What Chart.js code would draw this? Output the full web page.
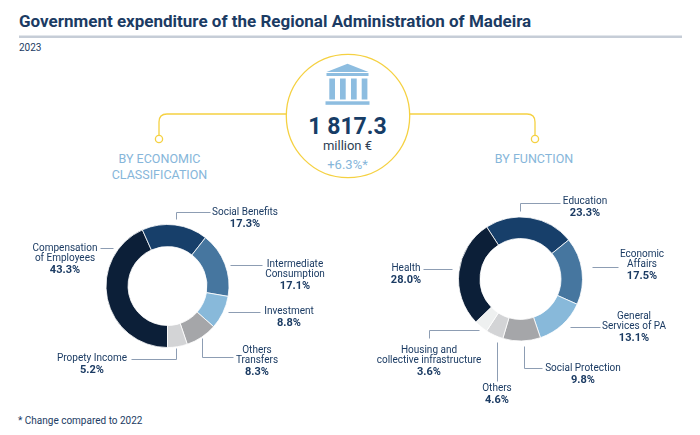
<!DOCTYPE html>
<html>
<head>
<meta charset="utf-8">
<script src="https://cdn.jsdelivr.net/npm/chart.js@4/dist/chart.umd.min.js"></script>
<style>
html,body{margin:0;padding:0;background:#fff;}
body{width:700px;height:435px;position:relative;overflow:hidden;font-family:Roboto,"Noto Sans",sans-serif;}
svg,canvas{position:absolute;left:0;top:0;}
</style>
</head>
<body>
<svg id="deco" width="700" height="435" xmlns="http://www.w3.org/2000/svg" font-family="Roboto, 'Noto Sans', sans-serif">
  <text x="19" y="27" font-size="17" font-weight="700" fill="#1b3b63">Government expenditure of the Regional Administration of Madeira</text>
  <rect x="19" y="35.5" width="663" height="2.5" fill="#c6cdd7"/>
  <text x="19" y="51" font-size="10" fill="#1b3b63">2023</text>
  <!-- connectors -->
  <path d="M286 114 H167 Q159 114 159 122 V135.5" fill="none" stroke="#f5d142" stroke-width="1.3"/>
  <circle cx="159" cy="139" r="3.6" fill="#fff" stroke="#f5d142" stroke-width="1.3"/>
  <path d="M410 114 H527 Q535 114 535 122 V135.5" fill="none" stroke="#f5d142" stroke-width="1.3"/>
  <circle cx="535" cy="139" r="3.6" fill="#fff" stroke="#f5d142" stroke-width="1.3"/>
  <circle cx="348" cy="116" r="61.7" fill="#fff" stroke="#f5d142" stroke-width="1.3"/>
  <!-- icon -->
  <g fill="#8dbde0">
    <polygon points="326.5,72 347.5,63.7 368.5,72"/>
    <rect x="326.5" y="73" width="42" height="3"/>
    <rect x="329.3" y="78.5" width="5.7" height="21"/>
    <rect x="340" y="78.5" width="5.7" height="21"/>
    <rect x="351" y="78.5" width="5.7" height="21"/>
    <rect x="361.7" y="78.5" width="5.7" height="21"/>
    <rect x="325.5" y="101.3" width="44" height="3.5"/>
  </g>
  <text id="total" x="347.5" y="134" font-size="23" font-weight="700" fill="#173d66" text-anchor="middle"></text>
  <text id="unit" x="347.5" y="150" font-size="13" fill="#2e3f55" text-anchor="middle"></text>
  <text id="change" x="347.5" y="169" font-size="13" fill="#86b6da" text-anchor="middle"></text>
  <text x="159.5" y="162.5" font-size="12.5" fill="#86b6da" text-anchor="middle">BY ECONOMIC</text>
  <text x="159.5" y="179" font-size="12.5" fill="#86b6da" text-anchor="middle">CLASSIFICATION</text>
  <text x="534" y="162.5" font-size="12.5" fill="#86b6da" text-anchor="middle">BY FUNCTION</text>
  <text x="18" y="423.5" font-size="10" fill="#1b3b63">* Change compared to 2022</text>
</svg>
<canvas id="econ" width="700" height="435"></canvas>
<canvas id="func" width="700" height="435"></canvas>
<script>
// ---- data ----
const totalExpenditure = 1817.3;   // million €
const changeVs2022 = 6.3;          // %

const econCategories = [
  ['Compensation', 'of Employees'],
  ['Social Benefits'],
  ['Intermediate', 'Consumption'],
  ['Investment'],
  ['Others', 'Transfers'],
  ['Propety Income']
];
const econValues = [43.3, 17.3, 17.1, 8.8, 8.3, 5.2];

const funcCategories = [
  ['Education'],
  ['Economic', 'Affairs'],
  ['General', 'Services of PA'],
  ['Social Protection'],
  ['Others'],
  ['Housing and', 'collective infrastructure'],
  ['Health']
];
const funcValues = [23.3, 17.5, 13.1, 9.8, 4.6, 3.6, 28.0];

// ---- styles / layout (not data) ----
const econColors = ['#0c1f38', '#173f6a', '#46769f', '#88b9da', '#a5a6a9', '#d3d4d6'];
const funcColors = ['#173f6a', '#46769f', '#88b9da', '#a5a6a9', '#d3d4d6', '#eef0f0', '#0c1f38'];

// label anchors relative to donut centre: [textX, firstLineY], leader polyline
const econCallouts = [
  {t: [-102.5, -38], line: [[-67.5, -38], [-54.5, -38]]},
  {t: [77.5, -74], line: [[8.5, -67], [8.5, -74], [42.5, -74]]},
  {t: [127.5, -22], line: [[62.5, -21], [94.5, -21]]},
  {t: [121.5, 25], line: [[60.5, 26], [92.5, 26]]},
  {t: [89.5, 64], line: [[34.5, 52], [34.5, 71], [65.5, 71]]},
  {t: [-75.5, 72], line: [[-36.5, 73], [8.5, 73], [8.5, 62]]}
];
const funcCallouts = [
  {t: [64.5, -78], line: [[-0.5, -68], [-0.5, -76], [39.5, -76]]},
  {t: [121.5, -25], line: [[71.5, -12], [97.5, -12]]},
  {t: [113.5, 37], line: [[49.5, 48], [79.5, 48]]},
  {t: [62.5, 89], line: [[3.5, 67], [3.5, 89], [21.5, 89]]},
  {t: [-23.5, 109], line: [[-23.5, 63], [-23.5, 102]]},
  {t: [-91.5, 71], line: [[-91.5, 59], [-91.5, 51], [-41.5, 51]]},
  {t: [-114.5, -11], line: [[-97.5, -10], [-68.5, -10]]}
];

// centre text
function fmtThousands(v) {
  const [i, d] = v.toFixed(1).split('.');
  return i.replace(/\B(?=(\d{3})+(?!\d))/g, ' ') + '.' + d;
}
document.getElementById('total').textContent = fmtThousands(totalExpenditure);
document.getElementById('unit').textContent = 'million €';
document.getElementById('change').textContent = '+' + changeVs2022.toFixed(1) + '%*';

const calloutPlugin = {
  id: 'callouts',
  afterDatasetsDraw(chart, args, opts) {
    const meta = chart.getDatasetMeta(0);
    if (!meta.data.length) return;
    const cx = meta.data[0].x, cy = meta.data[0].y;
    const ctx = chart.ctx;
    const values = chart.data.datasets[0].data;
    ctx.save();
    opts.items.forEach((c, i) => {
      ctx.strokeStyle = '#8d9db3';
      ctx.lineWidth = 1;
      ctx.beginPath();
      c.line.forEach((p, j) => {
        const x = Math.round(cx + p[0]) + 0.5, y = Math.round(cy + p[1]) + 0.5;
        if (j === 0) ctx.moveTo(x, y); else ctx.lineTo(x, y);
      });
      ctx.stroke();
      const lines = chart.data.labels[i];
      const tx = cx + c.t[0];
      let ty = cy + c.t[1];
      ctx.textAlign = 'center';
      ctx.textBaseline = 'middle';
      ctx.fillStyle = '#1b3b63';
      ctx.font = '10px Roboto, "Noto Sans", sans-serif';
      lines.forEach((s, k) => {
        ctx.fillText(s, tx, ty + k * 10);
      });
      ctx.font = 'bold 11px Roboto, "Noto Sans", sans-serif';
      ctx.fillText(values[i].toFixed(1) + '%', tx, ty + (lines.length - 1) * 10 + 12.5);
    });
    ctx.restore();
  }
};

function makeDonut(id, labels, values, colors, rotation, padding, radius, cutout, callouts) {
  return new Chart(document.getElementById(id), {
    type: 'doughnut',
    data: {
      labels: labels,
      datasets: [{
        data: values,
        backgroundColor: colors,
        borderColor: '#ffffff',
        borderWidth: 0.8,
        hoverOffset: 0
      }]
    },
    options: {
      responsive: false,
      animation: false,
      rotation: rotation,
      radius: radius,
      cutout: cutout,
      layout: {padding: padding},
      plugins: {
        legend: {display: false},
        tooltip: {enabled: false},
        callouts: {items: callouts}
      },
      events: []
    },
    plugins: [calloutPlugin]
  });
}

// left donut centred at (167.5, 286), right donut at (520.5, 279)
makeDonut('econ', econCategories, econValues, econColors, 180,
  {left: 0, right: 365, top: 137, bottom: 0}, 61.5, '64.2%', econCallouts);
makeDonut('func', funcCategories, funcValues, funcColors, -33,
  {left: 341, right: 0, top: 123, bottom: 0}, 62, '65.3%', funcCallouts);
</script>
</body>
</html>
